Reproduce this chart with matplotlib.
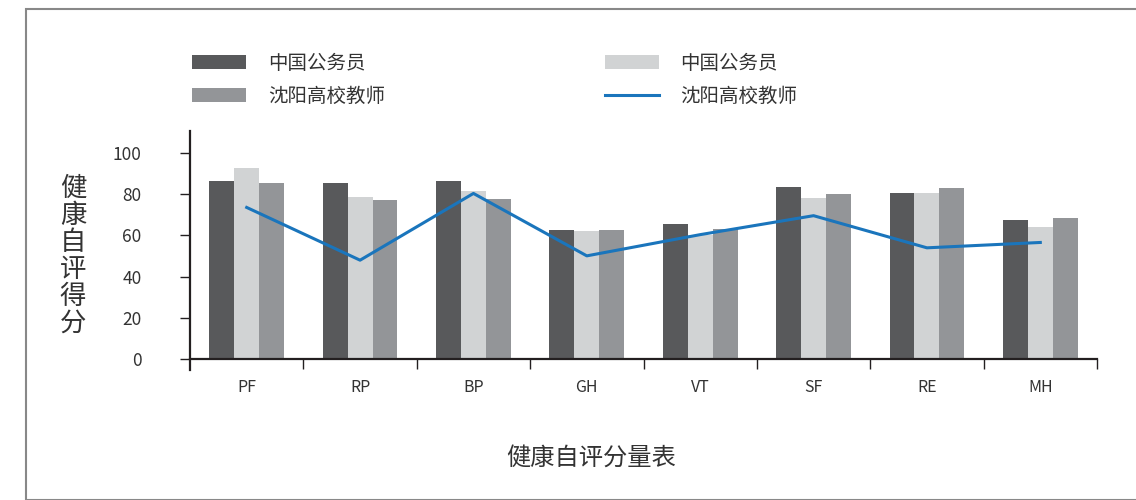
import numpy as np
import matplotlib
matplotlib.use("Agg")
import matplotlib.pyplot as plt
from matplotlib.patches import Rectangle

plt.rcParams['font.family'] = ['Noto Sans CJK SC', 'DejaVu Sans']

categories = ["PF", "RP", "BP", "GH", "VT", "SF", "RE", "MH"]
cn_civil_dark = [86.4, 85.4, 86.4, 62.6, 65.5, 83.5, 80.7, 67.5]
cn_civil_light = [92.5, 78.6, 81.5, 62.1, 60.2, 78.2, 80.7, 64.1]
sy_teacher_bar = [85.4, 77.2, 77.7, 62.6, 63.1, 80.1, 83.0, 68.4]
sy_teacher_line = [73.6, 48.0, 80.4, 50.1, 60.4, 69.6, 54.0, 56.6]
yticks = [0, 20, 40, 60, 80, 100]

c_dark = "#58595b"
c_light = "#d1d3d4"
c_mid = "#939598"
c_blue = "#1a75bc"
c_axis = "#231f20"
c_text = "#333333"

fig = plt.figure(figsize=(11.36, 5.0), dpi=100)
ax = fig.add_axes([190 / 1136, 1 - 370 / 500, (1097 - 190) / 1136, (370 - 131) / 500])

x = np.arange(len(categories))
w = 0.22
b1 = ax.bar(x - w, cn_civil_dark, w, color=c_dark, zorder=2)
b3 = ax.bar(x + w, sy_teacher_bar, w, color=c_mid, zorder=2)
b2 = ax.bar(x, cn_civil_light, w, color=c_light, zorder=2)
l1, = ax.plot(x, sy_teacher_line, color=c_blue, lw=2.2, zorder=3)

ax.set_xlim(-0.5, len(categories) - 0.5)
ax.set_ylim(-5.3, 110.7)

for s in ["top", "right"]:
    ax.spines[s].set_visible(False)
ax.spines["bottom"].set_position(("data", 0))
ax.spines["bottom"].set_color(c_axis)
ax.spines["left"].set_color(c_axis)
ax.spines["bottom"].set_linewidth(1.6)
ax.spines["left"].set_linewidth(1.6)

ax.set_yticks(yticks)
ax.set_yticklabels([str(v) for v in yticks], fontsize=12.5, color=c_text)
ax.tick_params(axis="y", length=7, width=1.0, color=c_axis, pad=28)

# category boundary ticks, labels at centres
ax.set_xticks(np.arange(len(categories)) + 0.5)
ax.set_xticklabels([])
ax.tick_params(axis="x", length=7, width=1.0, color=c_axis, direction="out")
for i, c in enumerate(categories):
    ax.text(i, -14, c, ha="center", va="center", fontsize=11.5, color=c_text)

fig.text(73 / 1136, 1 - 256 / 500, "\n".join("健康自评得分"), ha="center", va="center",
         fontsize=19, color=c_text, linespacing=1.0)
fig.text(591 / 1136, 1 - 458 / 500, "健康自评分量表", ha="center", va="center",
         fontsize=17.5, color=c_text)

leg = ax.legend([b1, b3, b2, l1], ["中国公务员", "沈阳高校教师", "中国公务员", "沈阳高校教师"],
                loc="upper left", bbox_to_anchor=(192 / 1136, 1 - 53 / 500),
                bbox_transform=fig.transFigure, ncol=2, frameon=False,
                fontsize=14, handlelength=2.8, handleheight=0.75, handletextpad=1.1,
                columnspacing=11.3, labelspacing=0.6, borderpad=0, borderaxespad=0)
for t in leg.get_texts():
    t.set_color(c_text)

fig.patches.append(Rectangle((26 / 1136, 0), 1.2, 1 - 9 / 500, transform=fig.transFigure,
                             fill=False, edgecolor="#888888", lw=1.5))

fig.savefig("out.png", dpi=100)
